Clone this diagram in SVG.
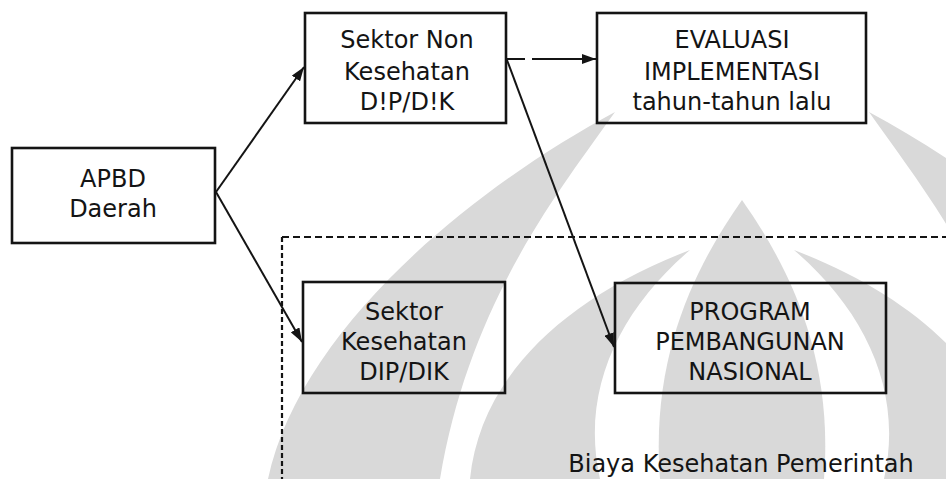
<svg xmlns="http://www.w3.org/2000/svg" width="946" height="479" viewBox="0 0 946 479">
  <style>
    .box{fill:none;stroke:#141414;stroke-width:2.6}
    .lbl{font-family:"DejaVu Sans","Liberation Sans",sans-serif;font-size:24px;fill:#141414;text-anchor:middle}
    .edge{stroke:#141414;stroke-width:2;fill:none}
    .frame{stroke:#141414;stroke-width:2.2;fill:none;stroke-dasharray:7 4}
    .wm{fill:#d9d9d9}
  </style>
  <defs>
    <marker id="arrow" viewBox="0 0 14 10" refX="14" refY="5" markerWidth="14" markerHeight="10" markerUnits="userSpaceOnUse" orient="auto">
      <path d="M0,0 L14,5 L0,10 z" fill="#141414"/>
    </marker>
  </defs>

  <rect width="946" height="479" fill="#fff"/>

  <!-- faint emblem in the background -->
  <g id="watermark">
    <path class="wm" d="M268 479 C300 330 470 190 615 112 C560 190 470 300 440 479 Z"/>
    <path class="wm" d="M1216 479 C1184 330 1014 190 869 112 C924 190 1014 300 1044 479 Z"/>
    <path class="wm" d="M470 479 C480 380 560 300 690 250 C620 310 580 390 600 479 Z"/>
    <path class="wm" d="M1014 479 C1004 380 924 300 794 250 C864 310 904 390 884 479 Z"/>
    <path class="wm" d="M742 200 C700 260 650 350 660 479 L824 479 C834 350 784 260 742 200 Z"/>
  </g>

  <!-- dashed frame: government health spending -->
  <g id="frame">
    <path class="frame" d="M282 237 H946"/>
    <path class="frame" d="M282 237 V479" style="stroke-dasharray:5 3"/>
    <text class="lbl" x="741" y="472">Biaya Kesehatan Pemerintah</text>
  </g>

  <g id="connectors">
    <path class="edge" d="M216 192 L304 67" marker-end="url(#arrow)"/>
    <path class="edge" d="M216 192 L302 342" marker-end="url(#arrow)"/>
    <path class="edge" d="M507 59 L596 59" style="stroke-dasharray:18 7 200" marker-end="url(#arrow)"/>
    <path class="edge" d="M507 60 L614 347" marker-end="url(#arrow)"/>
  </g>

  <g id="apbd">
    <rect class="box" x="12" y="148" width="203" height="95"/>
    <text class="lbl" x="113" y="187">APBD</text>
    <text class="lbl" x="113" y="217">Daerah</text>
  </g>

  <g id="sektor-non-kesehatan">
    <rect class="box" x="305" y="13" width="201" height="110"/>
    <text class="lbl" x="407" y="48">Sektor Non</text>
    <text class="lbl" x="407" y="80">Kesehatan</text>
    <text class="lbl" x="407" y="110">D!P/D!K</text>
  </g>

  <g id="evaluasi">
    <rect class="box" x="597" y="13" width="269" height="110"/>
    <text class="lbl" x="732" y="48">EVALUASI</text>
    <text class="lbl" x="732" y="80">IMPLEMENTASI</text>
    <text class="lbl" x="732" y="110">tahun-tahun lalu</text>
  </g>

  <g id="sektor-kesehatan">
    <rect class="box" x="303" y="282" width="202" height="111"/>
    <text class="lbl" x="404" y="320">Sektor</text>
    <text class="lbl" x="404" y="350">Kesehatan</text>
    <text class="lbl" x="404" y="380">DIP/DIK</text>
  </g>

  <g id="program">
    <rect class="box" x="615" y="283" width="271" height="110"/>
    <text class="lbl" x="750" y="320">PROGRAM</text>
    <text class="lbl" x="750" y="350">PEMBANGUNAN</text>
    <text class="lbl" x="750" y="380">NASIONAL</text>
  </g>
</svg>
